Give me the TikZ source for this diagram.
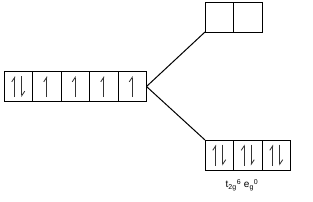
\documentclass[tikz,border=0pt]{standalone}
\usepackage{fontspec}
\setmainfont{Liberation Sans}
\usetikzlibrary{positioning,arrows.meta}

\begin{document}
\begin{tikzpicture}[
    x=1pt, y=-1pt,
    orb/.style={draw, line width=1pt, minimum width=28.5pt, minimum height=30pt, inner sep=0pt, outer sep=0pt},
    spin/.style={-{Straight Barb[left, length=4.5pt, width=6pt]}, line width=0.8pt, black!80},
    split/.style={line width=1pt},
    cfg/.style={font=\fontsize{10}{12}\selectfont},
]

\newcommand{\spinup}[1]{
    \draw[spin] ([yshift=-10.5pt]#1.center) -- ([yshift=10.5pt]#1.center);
}
\newcommand{\spinpair}[1]{
    \draw[spin] ([xshift=-3.5pt, yshift=-10.5pt]#1.center) -- ([xshift=-3.5pt, yshift=10.5pt]#1.center);
    \draw[spin] ([xshift=3.5pt, yshift=10.5pt]#1.center) -- ([xshift=3.5pt, yshift=-10.5pt]#1.center);
}

\useasboundingbox (0,0) rectangle (313,201);

% free ion d orbitals
\node[orb] (l1) at (18.25,86.5) {};
\node[orb, right=0pt of l1] (l2) {};
\node[orb, right=0pt of l2] (l3) {};
\node[orb, right=0pt of l3] (l4) {};
\node[orb, right=0pt of l4] (l5) {};
\spinpair{l1}
\spinup{l2}
\spinup{l3}
\spinup{l4}
\spinup{l5}

% e_g set
\node[orb] (t1) at (219.25,17) {};
\node[orb, right=0pt of t1] (t2) {};

% t_2g set
\node[orb] (b1) at (219.25,155) {};
\node[orb, right=0pt of b1] (b2) {};
\node[orb, right=0pt of b2] (b3) {};
\spinpair{b1}
\spinpair{b2}
\spinpair{b3}

% splitting
\draw[split] (l5.east) -- (t1.south west);
\draw[split] (l5.east) -- (b1.north west);

\node[cfg] (conf) at (242,185)
    {t\textsubscript{2g}\textsuperscript{6} e\textsubscript{g}\textsuperscript{0}};

\end{tikzpicture}
\end{document}
